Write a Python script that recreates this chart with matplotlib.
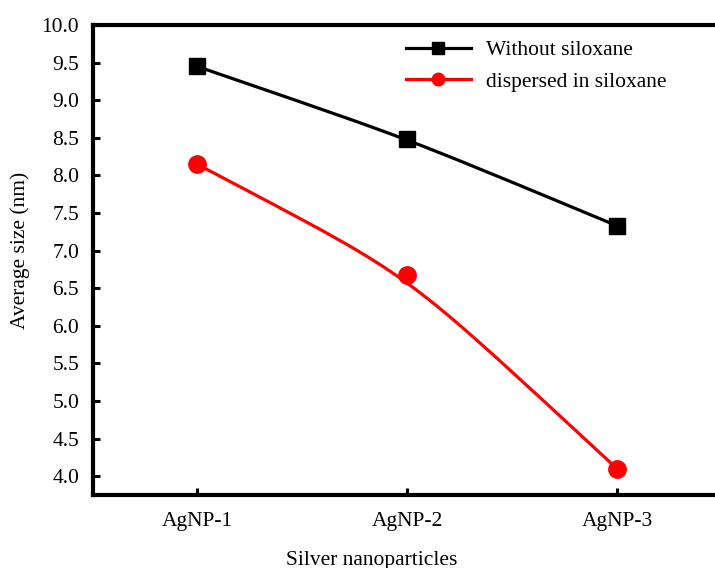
import numpy as np
import matplotlib
matplotlib.use('Agg')
import matplotlib.pyplot as plt
from matplotlib.path import Path
from matplotlib.patches import PathPatch
from matplotlib.lines import Line2D

plt.rcParams['font.family'] = ['Liberation Serif', 'DejaVu Serif']

# dati
samples = ['AgNP-1', 'AgNP-2', 'AgNP-3']
xpos = [1, 2, 3]
without_silox = [9.45, 8.49, 7.33]
dispersed_silox = [8.15, 6.68, 4.10]
yticks = [4.0, 4.5, 5.0, 5.5, 6.0, 6.5, 7.0, 7.5, 8.0, 8.5, 9.0, 9.5, 10.0]

fig = plt.figure(figsize=(7.15, 5.68), dpi=100)
ax = fig.add_axes([93/715, 73/568, 629/715, 470/568])


def rounded_path(xs, ys, f=0.8):
    # spezzata con l'angolo centrale arrotondato (come lo smoothing di Origin)
    p0 = np.array([xs[0], ys[0]])
    p1 = np.array([xs[1], ys[1]])
    p2 = np.array([xs[2], ys[2]])
    a = p1 + f*(p0 - p1)
    b = p1 + f*(p2 - p1)
    verts = [p0, a, p1, p1, b, p2]
    codes = [Path.MOVETO, Path.LINETO, Path.CURVE4, Path.CURVE4, Path.CURVE4,
             Path.LINETO]
    return Path(verts, codes)


series = [
    (without_silox, 'black', 's', 11.5, 'Without siloxane'),
    (dispersed_silox, '#ff0000', 'o', 12.5, 'dispersed in siloxane'),
]
handles = []
for vals, col, mk, ms, lab in series:
    ax.add_patch(PathPatch(rounded_path(xpos, vals), facecolor='none',
                           edgecolor=col, lw=2.3, zorder=2))
    ax.plot(xpos, vals, linestyle='none', marker=mk, ms=ms, color=col, zorder=3)
    handles.append(Line2D([], [], color=col, lw=2.3, marker=mk, ms=9))

ax.set_xlim(0.505, 3.5)
ax.set_ylim(3.75, 10.0)
ax.set_xticks(xpos)
ax.set_xticklabels(samples)
ax.set_yticks(yticks)
ax.set_yticklabels(['%.1f' % v for v in yticks])

ax.spines['right'].set_visible(False)
for s in ['left', 'top', 'bottom']:
    ax.spines[s].set_linewidth(3)
ax.tick_params(direction='in', length=5, width=2.2, labelsize=15.5)
ax.tick_params(axis='y', pad=10)
ax.tick_params(axis='x', pad=12)

ax.set_xlabel('Silver nanoparticles', fontsize=15.5)
ax.xaxis.set_label_coords((372-93)/629, (495-561)/470)
ax.xaxis.label.set_va('center')
ax.set_ylabel('Average size (nm)', fontsize=15.5)
ax.yaxis.set_label_coords((20-93)/629, (495-250)/470)
ax.yaxis.label.set_va('center')

ax.legend(handles, [s[4] for s in series], loc='upper left',
          bbox_to_anchor=((406-93)/629, (495-40)/470), frameon=False,
          fontsize=15.5, handlelength=3.0, handletextpad=0.7,
          borderpad=0, borderaxespad=0, labelspacing=0.55)

fig.savefig('out.png', dpi=100)
